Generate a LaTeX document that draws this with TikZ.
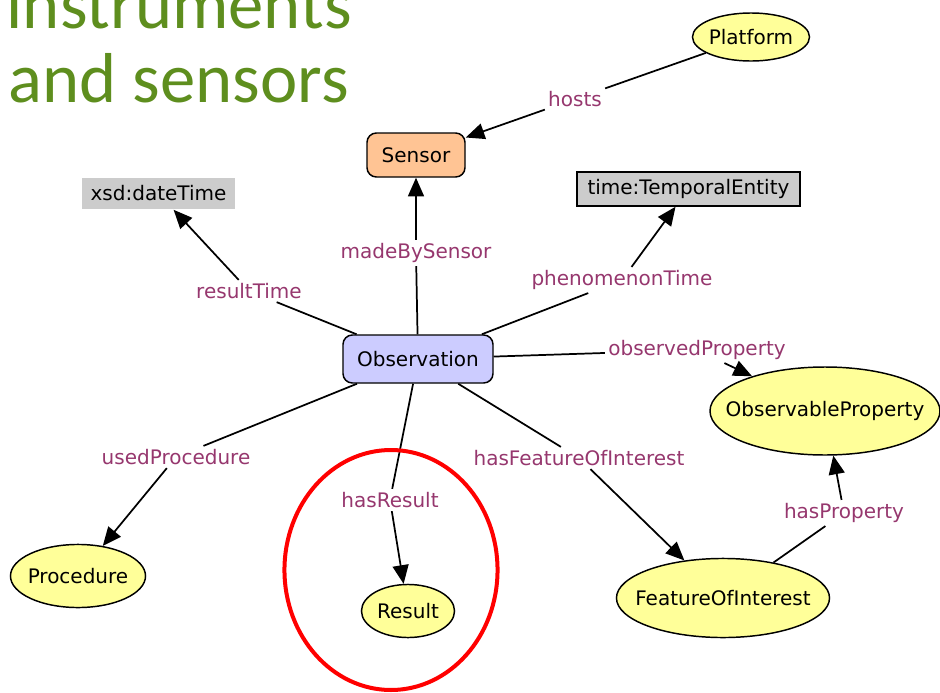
\documentclass[tikz,border=0pt]{standalone}
\usepackage{fontspec}
\setmainfont{DejaVu Sans}
\newfontfamily\titlefont{Carlito}
\usepackage{tikz}
\usetikzlibrary{arrows.meta,shapes.geometric}
\definecolor{titlegreen}{RGB}{94,142,30}
\definecolor{proplabel}{RGB}{150,55,110}
\definecolor{sensorfill}{RGB}{255,196,148}
\definecolor{obsfill}{RGB}{204,204,255}
\definecolor{classfill}{RGB}{255,255,153}
\definecolor{typefill}{RGB}{204,204,204}
\newcommand{\cname}[1]{\makebox[0pt]{#1}}
\tikzset{
  cls/.style={ellipse,draw,fill=classfill,inner sep=0pt},
  box/.style={rectangle,rounded corners=7pt,draw,inner sep=0pt},
  dtype/.style={rectangle,fill=typefill,inner sep=0pt},
  prop/.style={text=proplabel,inner sep=2pt},
  link/.style={line width=1.3pt,-{Triangle[length=14pt,width=12pt]}},
  bare/.style={line width=1.3pt},
  heading/.style={anchor=base west,inner sep=0pt,text=titlegreen,font=\titlefont\fontsize{53}{60}\selectfont}
}

\begin{document}
\begin{tikzpicture}[x=0.75pt,y=-0.75pt,line width=1.1pt,font=\fontsize{15}{18}\selectfont]
\useasboundingbox (0,0) rectangle (940,693);
\clip (0,0) rectangle (940,693);

\node[heading] (title1) at (6,28) {instruments};
\node[heading] (title2) at (8,102) {and sensors};

\node[cls,minimum width=87.8pt,minimum height=36pt] (platform) at (751,37) {\cname{Platform}};
\node[box,fill=sensorfill,minimum width=73.5pt,minimum height=33pt] (sensor) at (416,155) {Sensor};
\node[dtype,minimum width=114.8pt,minimum height=23.3pt] (datetime) at (158.5,193.5) {xsd:dateTime};
\node[dtype,draw,minimum width=167.3pt,minimum height=25.5pt] (temporal) at (688.5,189) {time:TemporalEntity};
\node[box,fill=obsfill,minimum width=112.5pt,minimum height=36pt] (obs) at (418,359) {Observation};
\node[cls,minimum width=172.5pt,minimum height=66pt] (obsprop) at (825,411) {\cname{ObservableProperty}};
\node[cls,minimum width=101.3pt,minimum height=47.3pt] (procedure) at (78,576) {\cname{Procedure}};
\node[cls,minimum width=69.8pt,minimum height=39.8pt] (result) at (408,611) {\cname{Result}};
\node[cls,minimum width=159.8pt,minimum height=59.3pt] (foi) at (723,598) {\cname{FeatureOfInterest}};

\node[prop] (hosts) at (575,99) {hosts};
\node[prop] (madeby) at (416,253) {madeBySensor};
\node[prop] (restime) at (249,291) {resultTime};
\node[prop] (phentime) at (622,280) {phenomenonTime};
\node[prop] (obsproplbl) at (697,350) {observedProperty};
\node[prop] (usedproc) at (176,457) {usedProcedure};
\node[prop] (hasres) at (390,500) {hasResult};
\node[prop] (hasfoi) at (579,458) {hasFeatureOfInterest};
\node[prop] (hasprop) at (844,513) {hasProperty};

\draw[bare] (platform) -- (hosts);
\draw[link] (hosts) -- (sensor);
\draw[bare] (obs) -- (madeby);
\draw[link] (madeby) -- (sensor);
\draw[bare] (obs) -- (restime);
\draw[link] (restime) -- (datetime);
\draw[bare] (obs) -- (phentime);
\draw[link] (phentime) -- (temporal);
\draw[bare] (obs) -- (obsproplbl);
\draw[link] (obsproplbl) -- (obsprop);
\draw[bare] (obs) -- (usedproc);
\draw[link] (usedproc) -- (procedure);
\draw[bare] (obs) -- (hasres);
\draw[link] (hasres) -- (result);
\draw[bare] (obs) -- (hasfoi);
\draw[link] (hasfoi) -- (foi);
\draw[bare] (foi) -- (hasprop);
\draw[link] (hasprop) -- (obsprop);

\draw[red,line width=3pt] (391,570) ellipse [x radius=79.9pt,y radius=90pt];
\end{tikzpicture}
\end{document}
